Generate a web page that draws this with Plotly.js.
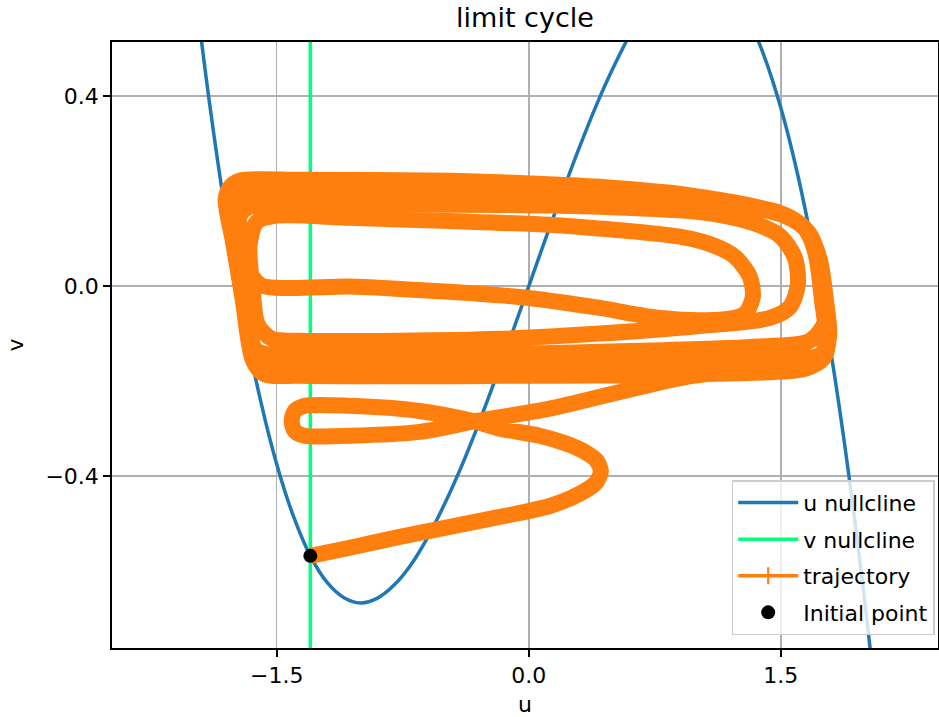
<!DOCTYPE html>
<html>
<head>
<meta charset="utf-8">
<script src="https://cdn.plot.ly/plotly-3.0.1.min.js"></script>
<style>
  html, body { margin: 0; padding: 0; background: #ffffff; }
  #chart { width: 939px; height: 717px; }
</style>
</head>
<body>
<div id="chart"></div>
<script>
// u nullcline
var uNull = [-2.0, -1.9, -1.8, -1.7, -1.6, -1.5, -1.4, -1.3, -1.2, -1.1, -1.0, -0.9, -0.8, -0.7, -0.6, -0.5, -0.4, -0.3, -0.2, -0.1, 0.0,
             0.1, 0.2, 0.3, 0.4, 0.5, 0.6, 0.7, 0.8, 0.9, 1.0, 1.1, 1.2, 1.3, 1.4, 1.5, 1.6, 1.7, 1.8, 1.9, 2.0, 2.1];
var vNull = [0.667, 0.386, 0.144, -0.062, -0.235, -0.375, -0.485, -0.568, -0.624, -0.656, -0.667, -0.657, -0.629, -0.586, -0.528, -0.458, -0.379, -0.291, -0.197, -0.100, 0.0,
             0.100, 0.197, 0.291, 0.379, 0.458, 0.528, 0.586, 0.629, 0.657, 0.667, 0.656, 0.624, 0.568, 0.485, 0.375, 0.235, 0.062, -0.144, -0.386, -0.667, -0.987];

// v nullcline (vertical line)
var uVNull = [-1.3, -1.3];
var vVNull = [-0.9, 0.7];

// trajectory
var uTraj = [-1.298, -1.065, -0.768, -0.470, -0.173, 0.125, 0.304, 0.399, 0.429, 0.405,
             0.333, 0.226, 0.065, -0.173, -0.310, -0.649, -1.065, -1.333, -1.393, -1.411,
             -1.393, -1.333, -1.065, -0.649, -0.310, 0.125, 0.542, 0.940, 1.256, 1.554,
             1.702, 1.768, 1.744, 1.708, 1.649, 1.524, 1.256, 0.899, 0.423, -0.173,
             -0.768, -1.363, -1.673, -1.732, -1.708, -1.661, -1.589, -1.423, -1.065, -0.768,
             -0.470, -0.054, 0.423, 0.780, 1.137, 1.286, 1.333, 1.315, 1.226, 1.089,
             0.899, 0.661, 0.363, 0.125, -0.470, -1.065, -1.512, -1.619, -1.661, -1.643,
             -1.613, -1.530, -1.363, -0.768, -0.173, 0.423, 1.018, 1.435, 1.554, 1.601,
             1.583, 1.494, 1.315, 1.018, 0.423, -0.173, -0.768, -1.363, -1.661, -1.720,
             -1.702, -1.673, -1.625, -1.530, -0.768, 0.423, 1.315, 1.673, 1.762, 1.750,
             1.708, 1.637, 1.494, 1.018, 0.423, -0.470, -1.363, -1.708, -1.756, -1.720,
             -1.667, -1.613, -1.512, -0.768, 0.423, 1.375, 1.732, 1.786, 1.768, 1.732,
             1.667, 1.565, 1.375, 1.018, 0.423, -0.054, -0.470, -1.363, -1.720, -1.780,
             -1.804, -1.762, -1.702, -1.643, -1.577, -1.363, -0.173, 1.018, 1.643, 1.756,
             1.786, 1.756, 1.714, 1.649, 1.524, 1.256, 0.899, 0.423, -0.470, -1.363,
             -1.690, -1.750, -1.732, -1.679, -1.625, -1.554, -0.768, 0.423, 1.375, 1.744];
var vTraj = [-0.568, -0.551, -0.528, -0.507, -0.486, -0.463, -0.437, -0.414, -0.391, -0.368,
             -0.349, -0.332, -0.315, -0.300, -0.286, -0.263, -0.252, -0.252, -0.263, -0.284,
             -0.305, -0.315, -0.315, -0.307, -0.284, -0.258, -0.223, -0.191, -0.178, -0.170,
             -0.159, -0.124, -0.029, 0.066, 0.119, 0.150, 0.173, 0.194, 0.207, 0.213,
             0.215, 0.215, 0.211, 0.190, 0.097, 0.030, 0.001, -0.004, -0.001, -0.006,
             -0.012, -0.023, -0.046, -0.067, -0.071, -0.058, -0.023, 0.020, 0.062, 0.087,
             0.104, 0.114, 0.123, 0.129, 0.137, 0.144, 0.148, 0.135, 0.087, -0.008,
             -0.081, -0.111, -0.115, -0.115, -0.111, -0.100, -0.084, -0.067, -0.044, 0.003,
             0.060, 0.106, 0.135, 0.156, 0.167, 0.171, 0.171, 0.171, 0.167, 0.148,
             0.055, -0.071, -0.134, -0.145, -0.147, -0.138, -0.128, -0.115, -0.075, -0.008,
             0.072, 0.123, 0.154, 0.184, 0.194, 0.196, 0.194, 0.190, 0.165, 0.039,
             -0.092, -0.159, -0.170, -0.172, -0.168, -0.157, -0.145, -0.109, -0.029, 0.055,
             0.112, 0.142, 0.165, 0.188, 0.209, 0.217, 0.222, 0.224, 0.222, 0.207,
             0.182, 0.097, -0.029, -0.155, -0.185, -0.189, -0.189, -0.185, -0.174, -0.151,
             -0.103, -0.018, 0.066, 0.119, 0.148, 0.171, 0.192, 0.203, 0.207, 0.207,
             0.205, 0.182, 0.055, -0.071, -0.159, -0.180, -0.180, -0.178, -0.168, -0.155];

// initial point
var uInit = [-1.3];
var vInit = [-0.568];

var xTicks = [-1.5, 0.0, 1.5];
var xTickText = ['\u22121.5', '0.0', '1.5'];
var yTicks = [-0.4, 0.0, 0.4];
var yTickText = ['\u22120.4', '0.0', '0.4'];

var ORANGE = '#ff7f0e';
var FONT = 'DejaVu Sans, Liberation Sans, sans-serif';

var traces = [
  { x: uNull, y: vNull, type: 'scatter', mode: 'lines', name: 'u nullcline',
    legendgroup: 'a', line: { color: '#1f77b4', width: 3.5, shape: 'spline', smoothing: 1 } },
  { x: uVNull, y: vVNull, type: 'scatter', mode: 'lines', name: 'v nullcline',
    legendgroup: 'b', line: { color: '#00ff7f', width: 3.5 } },
  { x: uTraj, y: vTraj, type: 'scatter', mode: 'lines', name: 'trajectory', showlegend: false,
    legendgroup: 'c', line: { color: ORANGE, width: 16, shape: 'spline', smoothing: 0.8 } },
  { x: [null], y: [null], type: 'scatter', mode: 'lines+markers', name: 'trajectory',
    legendgroup: 'c', line: { color: ORANGE, width: 3.5 },
    marker: { symbol: 'cross-thin', size: 12, color: ORANGE, line: { color: ORANGE, width: 2.2 } } },
  { x: uInit, y: vInit, type: 'scatter', mode: 'markers', name: 'Initial point',
    legendgroup: 'd', marker: { color: '#000000', size: 14 } }
];

var axisCommon = {
  showline: true, linecolor: '#000000', linewidth: 1.8, mirror: true,
  showgrid: true, gridcolor: '#b0b0b0', gridwidth: 1.5,
  zeroline: false,
  ticks: 'outside', ticklen: 7, tickwidth: 1.8, tickcolor: '#000000',
  tickfont: { family: FONT, size: 22, color: '#000000' },
  tickmode: 'array'
};

var layout = {
  width: 939, height: 717,
  margin: { l: 112, r: 1, t: 42, b: 69 },
  paper_bgcolor: '#ffffff', plot_bgcolor: '#ffffff',
  font: { family: FONT, color: '#000000' },
  title: { text: 'limit cycle', font: { family: FONT, size: 27, color: '#000000' },
           x: 0.5, xref: 'paper', xanchor: 'center', y: 0.975, yref: 'container', yanchor: 'middle' },
  xaxis: Object.assign({}, axisCommon, {
    range: [-2.48, 2.435], tickvals: xTicks, ticktext: xTickText,
    title: { text: 'u', font: { family: FONT, size: 22, color: '#000000' }, standoff: 10 }
  }),
  yaxis: Object.assign({}, axisCommon, {
    range: [-0.762, 0.514], tickvals: yTicks, ticktext: yTickText,
    title: { text: 'v', font: { family: FONT, size: 22, color: '#000000' }, standoff: 16 }
  }),
  showlegend: true,
  legend: {
    x: 0.996, y: 0.021, xanchor: 'right', yanchor: 'bottom',
    bgcolor: 'rgba(255,255,255,0.8)', bordercolor: '#cccccc', borderwidth: 1.5,
    font: { family: FONT, size: 22, color: '#000000' },
    traceorder: 'grouped', tracegroupgap: 5, itemwidth: 60
  }
};

Plotly.newPlot('chart', traces, layout, { displayModeBar: false, staticPlot: true });
</script>
</body>
</html>
